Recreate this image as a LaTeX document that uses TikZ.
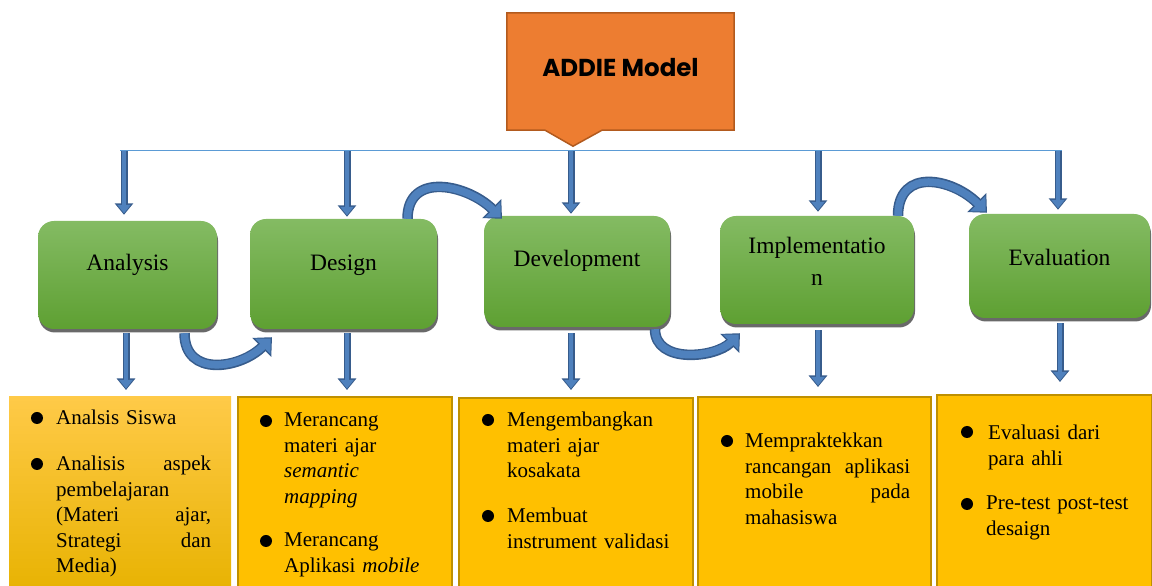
\documentclass[tikz,border=0pt]{standalone}
\usepackage{fontspec}
\setmainfont{Liberation Serif}
\newfontfamily\titlefont{Poppins}
\usepackage{tikz}
\usetikzlibrary{
  arrows.meta,
  calc,
  shadows
}
\usepackage{xcolor}
\definecolor{stageTop}{RGB}{132, 187,  99}
\definecolor{stageBot}{RGB}{ 94, 160,  50}
\definecolor{calloutfill}{RGB}{237, 125, 49}
\definecolor{calloutedge}{RGB}{178,  90, 30}
\definecolor{itemfill}{RGB}{255, 192,   0}
\definecolor{itemedge}{RGB}{191, 144,   0}
\definecolor{itemTop}{RGB}{255, 202,  72}
\definecolor{itemBot}{RGB}{231, 178,   0}
\definecolor{arrfill}{RGB}{ 79, 129, 189}
\definecolor{arredge}{RGB}{ 55,  92, 140}
\definecolor{barclr}{RGB}{ 91, 155, 213}
\newcommand\stagefont{\fontsize{23.5pt}{32pt}\selectfont}
\newcommand\itemfont{\fontsize{21pt}{25.5pt}\selectfont}
\tikzset{
  % Sarlavha (callout)
  calloutspace/.style = {minimum width=227pt, minimum height=117pt, inner sep=0pt},
  calloutshape/.style = {fill=calloutfill, draw=calloutedge, line width=1.5pt},
  titletext/.style    = {font=\titlefont\bfseries\fontsize{24.5pt}{28pt}\selectfont, inner sep=0pt},
  % Bosqich bloklari
  stage/.style     = {rectangle, rounded corners=16pt, inner sep=0pt,
                      top color=stageTop, bottom color=stageBot,
                      drop shadow={shadow xshift=1pt, shadow yshift=-3.5pt,
                                   fill=black!65, opacity=0.9}},
  stagetext/.style = {font=\stagefont, inner sep=0pt, align=center},
  % Ro'yxat qutilari
  itembox/.style   = {rectangle, anchor=north west, inner sep=0pt,
                      fill=itemfill, draw=itemedge, line width=2pt},
  itemboxA/.style  = {rectangle, anchor=north west, inner sep=0pt,
                      top color=itemTop, bottom color=itemBot},
  itemtext/.style  = {font=\itemfont, anchor=base west, inner sep=0pt, align=left},
  dot/.style       = {circle, fill=black, inner sep=0pt, minimum size=12pt},
  % O'qlar
  barline/.style   = {draw=barclr, line width=1pt},
  downarrow/.style = {draw=arrfill, line width=4.5pt,
                      -{Triangle[width=13pt,length=8.5pt]}, shorten >=1.5pt,
                      preaction={draw=arredge, line width=7pt,
                                 -{Triangle[width=18pt,length=11.5pt]}, shorten >=0pt}},
  curvearrow/.style = {draw=arrfill, line width=7.5pt,
                       -{Triangle[width=21pt,length=11pt]}, shorten >=2pt,
                       preaction={draw=arredge, line width=10.5pt,
                                  -{Triangle[width=26pt,length=14.5pt]}, shorten >=0pt}},
}

\begin{document}
\begin{tikzpicture}[x=1pt, y=1pt]
  \useasboundingbox (0,0) rectangle (1152,586);

  % Sarlavha
  \node[calloutspace] (addie) at (620.5,514.5) {};
  \draw[calloutshape] (addie.north west) -- (addie.north east) -- (addie.south east)
    -- ([xshift=-18.5pt]addie.south) -- ([xshift=-47.5pt,yshift=-16pt]addie.south)
    -- ([xshift=-75.5pt]addie.south) -- (addie.south west) -- cycle;
  \node[titletext] (addie-t) at ([yshift=4pt]addie.center) {ADDIE Model};

  % Gorizontal chiziq
  \coordinate (barL) at (120,435);
  \coordinate (barR) at (1062,435);
  \draw[barline] (barL) -- (barR);

  % Bosqichlar
  \node[stage, minimum width=179pt, minimum height=108pt] (ana) at (127.5,311) {};
  \node[stage, minimum width=187pt, minimum height=110pt] (des) at (343.5,312) {};
  \node[stage, minimum width=186pt, minimum height=111pt] (dev) at (577,314.5) {};
  \node[stage, minimum width=194pt, minimum height=108pt] (imp) at (817,316) {};
  \node[stage, minimum width=181pt, minimum height=104pt] (eva) at (1059.5,320) {};
  \node[stagetext] (ana-t) at ([yshift=10pt]ana.center) {Analysis};
  \node[stagetext] (des-t) at ([yshift=9pt]des.center) {Design};
  \node[stagetext] (dev-t) at ([yshift=10.5pt]dev.center) {Development};
  \node[stagetext] (imp-t) at ([yshift=9pt]imp.center) {Implementatio\\ n};
  \node[stagetext] (eva-t) at ([yshift=9pt]eva.center) {Evaluation};

  % Ro'yxat qutilari
  \node[itemboxA, minimum width=222pt, minimum height=200pt] (anaL) at (9,190) {};
  \node[itembox,  minimum width=214pt, minimum height=200pt] (desL) at (237,190) {};
  \node[itembox,  minimum width=234pt, minimum height=200pt] (devL) at (458,189) {};
  \node[itembox,  minimum width=233pt, minimum height=200pt] (impL) at (697,190) {};
  \node[itembox,  minimum width=215pt, minimum height=200pt] (evaL) at (936,192) {};

  % Yuqoridan bloklarga
  \draw[downarrow] ($(barL -| ana.north)+(-3.5,0)$) -- ($(ana.north)+(-3.5,6)$);
  \draw[downarrow] ($(barL -| des.north)+(3.5,0)$)  -- ($(des.north)+(3.5,2)$);
  \draw[downarrow] ($(barL -| dev.north)+(-6,0)$)   -- ($(dev.north)+(-6,2)$);
  \draw[downarrow] ($(barL -| imp.north)+(1,0)$)    -- ($(imp.north)+(1,4)$);
  \draw[downarrow] ($(barL -| eva.north)+(-1.5,0)$) -- ($(eva.north)+(-1.5,4)$);

  % Bloklardan qutilarga
  \draw[downarrow] ($(ana.south)+(-1.5,-4)$) -- ($(anaL.north -| ana.south)+(-1.5,6)$);
  \draw[downarrow] ($(des.south)+(3.5,-4)$)  -- ($(desL.north -| des.south)+(3.5,6)$);
  \draw[downarrow] ($(dev.south)+(-6,-6)$)   -- ($(devL.north -| dev.south)+(-6,7)$);
  \draw[downarrow] ($(imp.south)+(1,-6)$)    -- ($(impL.north -| imp.south)+(1,9)$);
  \draw[downarrow] ($(eva.south)+(0.5,-5)$)  -- ($(evaL.north -| eva.south)+(0.5,12)$);

  % Egri o'qlar
  \draw[curvearrow] ([xshift=57pt,yshift=-4pt]ana.south)
    to[out=-90, in=-135, looseness=1.3] ([xshift=-71.5pt,yshift=-8pt]des.south);
  \draw[curvearrow] ([xshift=64pt]des.north)
    to[out=90, in=135, looseness=1.3] ([xshift=-75pt,yshift=-3pt]dev.north);
  \draw[curvearrow] ([xshift=78pt,yshift=-2pt]dev.south)
    to[out=-90, in=-135, looseness=1.05] ([xshift=-77pt,yshift=-9pt]imp.south);
  \draw[curvearrow] ([xshift=81pt]imp.north)
    to[out=90, in=135, looseness=1.4] ([xshift=-72.5pt,yshift=1pt]eva.north);

  % Analysis ro'yxati
  \node[dot] (ana-b1) at (37,168) {};
  \node[itemtext, text width=155pt] (ana-i1) at (56,161) {Analsis Siswa};
  \node[dot] (ana-b2) at (37,122) {};
  \node[itemtext, text width=155pt] (ana-i2) at (56,115)
    {Analisis\hfill aspek\\ pembelajaran\\ (Materi\hfill ajar,\\ Strategi\hfill dan\\ Media)};

  % Design ro'yxati
  \node[dot] (des-b1) at (266,165) {};
  \node[itemtext, text width=170pt] (des-i1) at (284,159)
    {Merancang\\ materi ajar\\ \textit{semantic}\\ \textit{mapping}};
  \node[dot] (des-b2) at (266,45) {};
  \node[itemtext, text width=170pt] (des-i2) at (284,39) {Merancang\\ Aplikasi \textit{mobile}};

  % Development ro'yxati
  \node[dot] (dev-b1) at (488,166) {};
  \node[itemtext, text width=180pt] (dev-i1) at (507,159) {Mengembangkan\\ materi ajar\\ kosakata};
  \node[dot] (dev-b2) at (488,70) {};
  \node[itemtext, text width=180pt] (dev-i2) at (507,63) {Membuat\\ instrument validasi};

  % Implementation ro'yxati
  \node[dot] (imp-b1) at (727,145) {};
  \node[itemtext, text width=165pt] (imp-i1) at (745,138)
    {Mempraktekkan\\ rancangan\hfill aplikasi\\ mobile\hfill pada\\ mahasiswa};

  % Evaluation ro'yxati
  \node[dot] (eva-b1) at (967,154) {};
  \node[itemtext, text width=160pt] (eva-i1) at (988,146) {Evaluasi dari\\ para ahli};
  \node[dot] (eva-b2) at (967,82) {};
  \node[itemtext, text width=160pt] (eva-i2) at (986,76) {Pre-test post-test\\ desaign};
\end{tikzpicture}
\end{document}
